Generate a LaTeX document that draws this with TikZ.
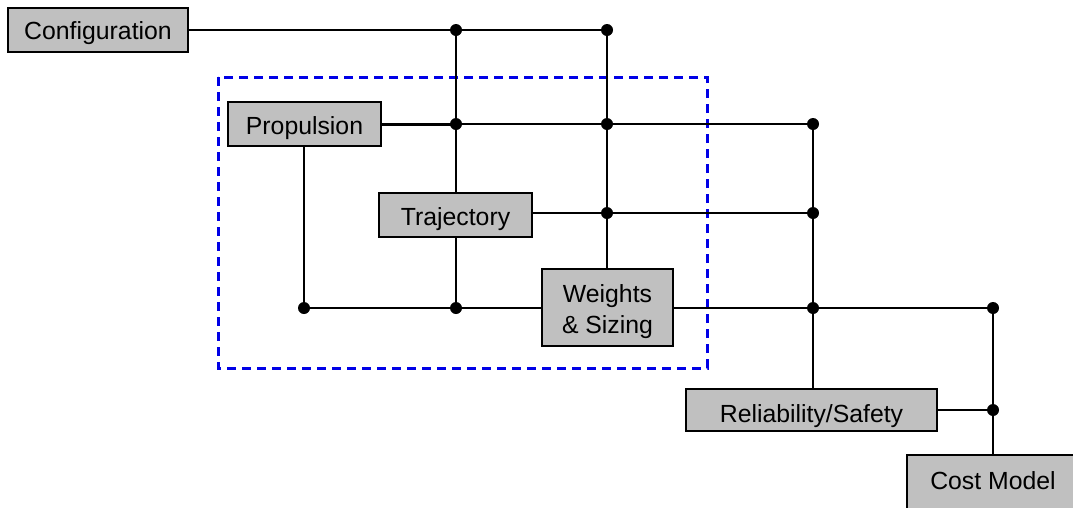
\documentclass[tikz,border=0pt]{standalone}
\usepackage{fontspec}
\setmainfont{Liberation Sans}
\definecolor{boxgray}{RGB}{192,192,192}
\definecolor{dashblue}{RGB}{0,0,230}
\begin{document}
\begin{tikzpicture}[x=1pt,y=-1pt,
  blk/.style={draw=black,line width=2pt,fill=boxgray,inner sep=0pt,
    text height=20pt,text depth=0pt,
    font=\fontsize{24.8}{31}\selectfont},
  wire/.style={draw=black,line width=2pt},
  dot/.style={circle,fill=black,inner sep=0pt,minimum size=12pt}]
\useasboundingbox (0,0) rectangle (1073,507);
\clip (0,0) rectangle (1073,507);
\draw[dashblue,line width=3pt,dash pattern=on 9pt off 6pt] (218,77) rectangle (707,368);
% boxes
\node[blk,minimum width=180pt,minimum height=44pt,text height=19pt] (conf) at (98,30) {Configuration};
\node[blk,minimum width=153pt,minimum height=44pt] (prop) at (304.5,124) {Propulsion};
\node[blk,minimum width=153pt,minimum height=44pt] (traj) at (455.5,215) {Trajectory};
\node[blk,minimum width=131pt,minimum height=77pt,text height=52pt] (wts) at (607.5,307.5)
  {\begin{tabular}[b]{@{}c@{}}Weights\\\& Sizing\end{tabular}};
\node[blk,minimum width=251pt,minimum height=42pt,text height=24pt] (rel) at (811.5,410) {Reliability/Safety};
\node[blk,minimum width=172pt,minimum height=62pt,text height=6pt] (cost) at (993,486) {Cost Model};
% coordinates
\coordinate (c1) at (456,30);
\coordinate (c2) at (607,30);
\coordinate (p1) at (456,124);
\coordinate (p2) at (607,124);
\coordinate (p3) at (813,124);
\coordinate (t1) at (607,213);
\coordinate (t2) at (813,213);
\coordinate (w0) at (304,308);
\coordinate (w1) at (456,308);
\coordinate (w2) at (813,308);
\coordinate (w3) at (993,308);
\coordinate (r1) at (993,410);
% wires
\draw[wire] (conf.east |- c1) -- (c2);
\draw[wire] (c1) -- (c1 |- traj.north);
\draw[wire] (c2) -- (c2 |- wts.north);
\draw[wire,line width=3pt] (prop.east |- p1) -- (p1);
\draw[wire] (p1) -- (p3);
\draw[wire] (p3) -- (p3 |- rel.north);
\draw[wire] (traj.east |- t1) -- (t2);
\draw[wire] (prop.south -| w0) -- (w0);
\draw[wire] (w0) -- (wts.west |- w0);
\draw[wire] (traj.south -| w1) -- (w1);
\draw[wire] (wts.east |- w2) -- (w3);
\draw[wire] (w3) -- (w3 |- cost.north);
\draw[wire] (rel.east |- r1) -- (r1);
% dots
\foreach \p in {c1,c2,p1,p2,p3,t1,t2,w0,w1,w2,w3,r1} \node[dot] at (\p) {};
\end{tikzpicture}
\end{document}
